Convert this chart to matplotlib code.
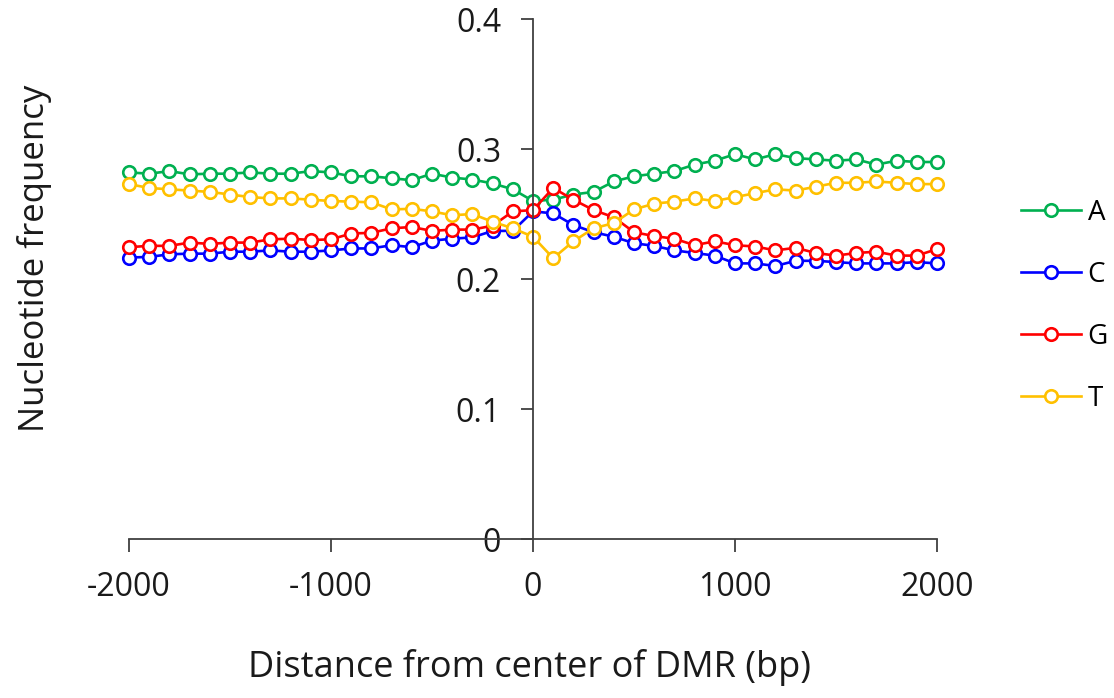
import matplotlib
matplotlib.use("Agg")
import matplotlib.pyplot as plt
import numpy as np

positions = list(range(-2000, 2001, 100))

freq_A = [0.282, 0.281, 0.283, 0.2805, 0.281, 0.281, 0.282, 0.281, 0.281, 0.283, 0.282,
          0.279, 0.279, 0.2775, 0.276, 0.281, 0.278, 0.2765, 0.2735, 0.269, 0.260,
          0.261, 0.265, 0.267, 0.275, 0.279, 0.281, 0.283, 0.288, 0.291, 0.296,
          0.292, 0.296, 0.293, 0.292, 0.291, 0.292, 0.288, 0.291, 0.290, 0.290]
freq_C = [0.2165, 0.217, 0.219, 0.2195, 0.2195, 0.221, 0.221, 0.222, 0.221, 0.221, 0.222,
          0.2235, 0.2235, 0.226, 0.2245, 0.2295, 0.231, 0.232, 0.237, 0.237, 0.252,
          0.2505, 0.2415, 0.236, 0.2325, 0.2275, 0.2255, 0.222, 0.220, 0.218, 0.212,
          0.212, 0.210, 0.214, 0.214, 0.213, 0.212, 0.212, 0.212, 0.213, 0.212]
freq_G = [0.2245, 0.2255, 0.2255, 0.228, 0.227, 0.228, 0.228, 0.2305, 0.231, 0.230, 0.2305,
          0.235, 0.2355, 0.239, 0.240, 0.237, 0.238, 0.238, 0.241, 0.252, 0.253,
          0.270, 0.261, 0.253, 0.2475, 0.236, 0.233, 0.231, 0.226, 0.229, 0.226,
          0.225, 0.222, 0.224, 0.220, 0.218, 0.220, 0.221, 0.218, 0.218, 0.223]
freq_T = [0.273, 0.270, 0.269, 0.268, 0.267, 0.265, 0.263, 0.262, 0.262, 0.261, 0.260,
          0.2595, 0.259, 0.2535, 0.254, 0.252, 0.249, 0.250, 0.244, 0.239, 0.2325,
          0.216, 0.229, 0.239, 0.243, 0.2535, 0.258, 0.2595, 0.262, 0.260, 0.263,
          0.266, 0.269, 0.268, 0.271, 0.274, 0.274, 0.275, 0.274, 0.273, 0.273]

series_names = ["A", "C", "G", "T"]
series_values = [freq_A, freq_C, freq_G, freq_T]
series_colors = ["#00B050", "#0000FF", "#FF0000", "#FFC000"]

x_ticks = [-2000, -1000, 0, 1000, 2000]
y_ticks = [0, 0.1, 0.2, 0.3, 0.4]
y_tick_labels = ["0", "0.1", "0.2", "0.3", "0.4"]

plt.rcParams['font.family'] = ['Open Sans', 'DejaVu Sans']

fig = plt.figure(figsize=(11.14, 6.98), dpi=100)
ax = fig.add_axes([129/1114, 1 - 539/698, 808/1114, 520/698])

handles = []
for name, vals, col in zip(series_names, series_values, series_colors):
    h, = ax.plot(positions, vals, color=col, lw=1.9, marker='o', markersize=9,
                 markerfacecolor='white', markeredgecolor=col, markeredgewidth=1.9,
                 label=name, clip_on=False)
    handles.append(h)

ax.set_xlim(-2000, 2000)
ax.set_ylim(0, 0.4)
ax.spines['left'].set_position(('data', 0))
ax.spines['right'].set_visible(False)
ax.spines['top'].set_visible(False)
for s in ['left', 'bottom']:
    ax.spines[s].set_color('#404040')
    ax.spines[s].set_linewidth(1.3)

ax.set_xticks(x_ticks)
ax.set_xticklabels([str(v) for v in x_ticks])
ax.set_yticks(y_ticks)
ax.set_yticklabels(y_tick_labels)
ax.tick_params(axis='both', direction='out', length=9, width=1.3, color='#404040',
               labelsize=23, labelcolor='#1a1a1a')
ax.tick_params(axis='x', pad=14)
ax.tick_params(axis='y', pad=14)

fig.text(35/1114, 1 - 258/698, "Nucleotide frequency", rotation=90, ha='center',
         va='center', fontsize=25, color='#1a1a1a')
fig.text(530/1114, 1 - 668/698, "Distance from center of DMR (bp)", ha='center',
         va='center', fontsize=26, color='#1a1a1a')

leg = fig.legend(handles=handles, labels=series_names, loc='center left',
                 bbox_to_anchor=(1021/1114, 1 - 306/698), frameon=False,
                 fontsize=20, handlelength=2.15, labelspacing=1.22, handletextpad=0.25,
                 borderpad=0, borderaxespad=0)

fig.savefig("out.png", dpi=100)
